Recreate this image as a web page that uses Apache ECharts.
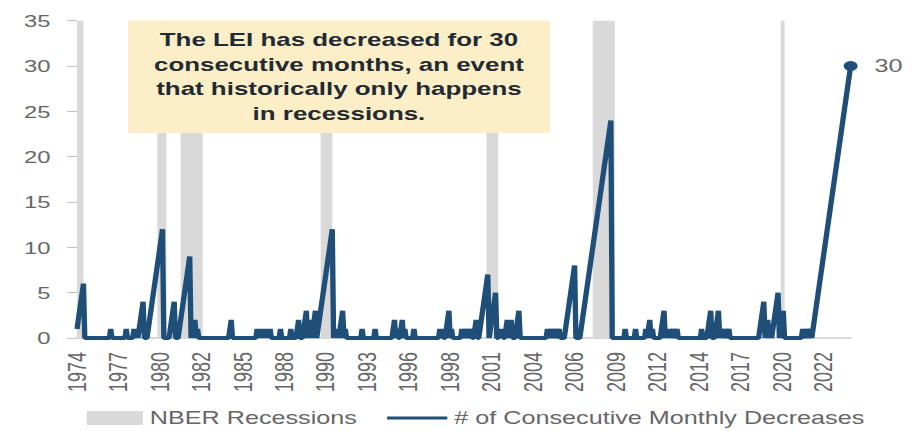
<!DOCTYPE html>
<html>
<head>
<meta charset="utf-8">
<script src="https://cdn.jsdelivr.net/npm/echarts@6/dist/echarts.min.js"></script>
<style>
  html, body { margin: 0; padding: 0; background: #fff; }
  /* the source picture is a chart stretched sideways, so draw narrow and stretch */
  #chart { width: 655px; height: 431px; transform: scaleX(1.4); transform-origin: 0 0; }
</style>
</head>
<body>
<div id="chart"></div>
<script>
// x = months since Oct 1974, a label every 32 months
const xLabels = ['1974', '1977', '1980', '1982', '1985', '1988', '1990', '1993', '1996', '1998',
                 '2001', '2004', '2006', '2009', '2012', '2014', '2017', '2020', '2022']
const labelStep = 32
const lastMonth = 597

// turning points of the consecutive-decrease counter
const monthIdx = [
  0, 5, 6, 25, 26, 27, 37, 38, 39, 43, 44, 45, 46, 47, 51, 52, 54, 66, 67, 71, 75, 76, 78, 87, 88,
  91, 92, 93, 94, 117, 119, 120, 138, 139, 140, 141, 142, 143, 144, 145, 146, 147, 148, 149, 150,
  156, 157, 158, 164, 165, 166, 169, 171, 172, 174, 177, 178, 180, 181, 184, 185, 197, 198,
  199, 200, 201, 202, 205, 206, 207, 208, 219, 220, 221, 229, 230, 231,
  243, 245, 246, 247, 248, 249, 251, 252, 253, 254, 259, 260, 261,
  279, 280, 281, 282, 283, 284, 287, 288, 289, 290, 296, 297, 298, 300, 301, 304, 305, 306, 308, 309,
  310, 317, 318, 323, 324, 325, 326, 327, 328, 329, 330, 332, 333, 335, 336, 338, 341, 342,
  362, 363, 364, 366, 367, 369, 370, 372, 373, 376, 384, 385, 388, 412, 413,
  422, 423, 424, 430, 431, 432, 438, 439, 440, 442, 443, 444, 445,
  450, 453, 454, 455, 456, 457, 458, 460, 461, 463, 464,
  481, 482, 483, 486, 489, 490, 492, 495, 496, 497, 498, 500, 501, 503, 504,
  526, 530, 531, 533, 534, 535, 536, 541, 542, 545, 546,
  559, 560, 561, 563, 564, 566, 567, 597
]
const decreases = [
  1, 6, 0, 0, 1, 0, 0, 1, 0, 0, 1, 0, 1, 0, 4, 0, 0, 12, 0, 0, 4, 0, 0, 9, 0,
  2, 0, 1, 0, 0, 2, 0, 0, 1, 0, 1, 0, 1, 0, 1, 0, 1, 0, 1, 0,
  0, 1, 0, 0, 1, 0, 0, 2, 0, 0, 3, 0, 2, 0, 3, 0, 12, 0,
  1, 0, 1, 0, 3, 0, 1, 0, 0, 1, 0, 0, 1, 0,
  0, 2, 0, 1, 0, 0, 2, 0, 1, 0, 0, 1, 0,
  0, 1, 0, 1, 0, 0, 3, 0, 1, 0, 0, 1, 0, 1, 0, 1, 0, 0, 2, 0,
  0, 7, 0, 5, 0, 0, 1, 0, 1, 0, 0, 2, 0, 2, 0, 0, 3, 0,
  0, 1, 0, 1, 0, 1, 0, 1, 0, 0, 8, 0, 0, 24, 0,
  0, 1, 0, 0, 1, 0, 0, 1, 0, 2, 0, 1, 0,
  0, 3, 0, 1, 0, 1, 0, 1, 0, 1, 0,
  0, 1, 0, 0, 3, 0, 0, 3, 0, 1, 0, 1, 0, 1, 0,
  0, 4, 0, 2, 0, 1, 0, 5, 0, 3, 0,
  0, 1, 0, 1, 0, 1, 0, 30
]

// NBER recessions, same month index
const recStart = [0, 62, 80, 188, 316, 398, 543]
const recEnd   = [5, 69, 97, 197, 325, 415, 546]

const noteText = 'The LEI has decreased for 30\nconsecutive months, an event\nthat historically only happens\nin recessions.'

const lineColor = '#1f4e79'
const bandColor = '#d9d9d9'
const textColor = '#666666'
const font = "'Liberation Sans', Arial, sans-serif"

const points = monthIdx.map((m, i) => [m, decreases[i]])
const last = points.length - 1
const seriesData = points.map((p, i) => i < last ? p : {
  value: p,
  symbol: 'circle',
  symbolSize: 10,
  label: { show: true, position: 'right', distance: 12, color: textColor, fontSize: 18, fontFamily: font }
})

const chart = echarts.init(document.getElementById('chart'), null, { renderer: 'svg' })

chart.setOption({
  animation: false,
  textStyle: { fontFamily: font },
  grid: { left: 55, right: 47.4, top: 20.7, bottom: 93 },
  legend: [
    {
      data: [{ name: 'NBER Recessions', icon: 'rect' }],
      left: 57, top: 404,
      itemWidth: 40, itemHeight: 14,
      selectedMode: false,
      textStyle: { color: textColor, fontSize: 18, fontFamily: font }
    },
    {
      data: [{ name: '# of Consecutive Monthly Decreases', icon: 'rect' }],
      left: 271.5, top: 404,
      itemWidth: 43, itemHeight: 3,
      selectedMode: false,
      textStyle: { color: textColor, fontSize: 18, fontFamily: font }
    }
  ],
  xAxis: {
    type: 'value',
    min: 0,
    max: lastMonth,
    interval: labelStep,
    splitLine: { show: false },
    axisTick: { show: false },
    axisLine: { show: true, lineStyle: { color: bandColor, width: 2 } },
    axisLabel: {
      rotate: 90,
      margin: 14,
      fontSize: 18,
      color: textColor,
      formatter: v => (v % labelStep === 0 && xLabels[v / labelStep]) || ''
    }
  },
  yAxis: {
    type: 'value',
    min: 0,
    max: 35,
    interval: 5,
    splitLine: { show: false },
    axisLine: { show: false },
    axisTick: { show: true, length: 7, lineStyle: { color: '#bfbfbf' } },
    axisLabel: { margin: 19, fontSize: 17, color: textColor }
  },
  series: [
    {
      name: 'NBER Recessions',
      type: 'line',
      data: [],
      z: 1,
      itemStyle: { color: bandColor },
      lineStyle: { color: bandColor },
      markArea: {
        silent: true,
        itemStyle: { color: bandColor, opacity: 1 },
        data: recStart.map((s, i) => [{ xAxis: s }, { xAxis: recEnd[i] }])
      }
    },
    {
      name: '# of Consecutive Monthly Decreases',
      type: 'line',
      data: seriesData,
      z: 3,
      symbol: 'none',
      showSymbol: true,
      color: lineColor,
      itemStyle: { color: lineColor },
      lineStyle: { color: lineColor, width: 3.8 }
    }
  ],
  graphic: [
    {
      type: 'rect',
      z: 10,
      shape: { x: 91.4, y: 20.7, width: 301.5, height: 112.3 },
      style: { fill: '#fcefc7' }
    },
    {
      type: 'text',
      z: 11,
      x: 242.1,
      y: 77,
      style: {
        text: noteText,
        fill: '#222a33',
        font: "bold 18.5px 'Liberation Sans', Arial, sans-serif",
        lineHeight: 24.5,
        align: 'center',
        verticalAlign: 'middle'
      }
    }
  ]
})
</script>
</body>
</html>
